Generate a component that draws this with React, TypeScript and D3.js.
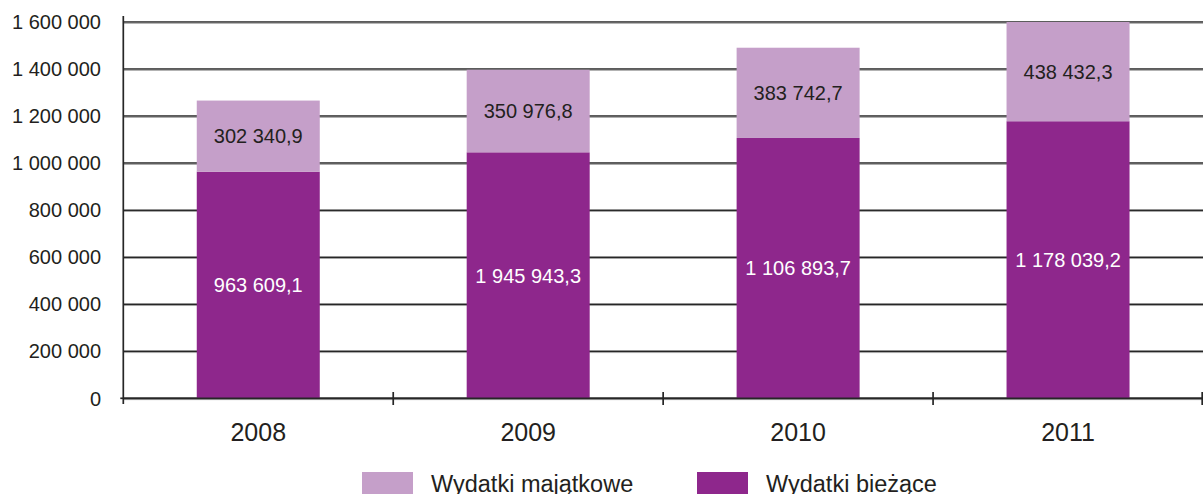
import React, { useEffect, useRef } from "react";
import * as d3 from "d3";

const years = ["2008", "2009", "2010", "2011"];
// Wydatki bieżące (current expenditure) – bar values
const currentValues = [963609.1, 1045943.3, 1106893.7, 1178039.2];
// Wydatki majątkowe (capital expenditure)
const capitalValues = [302340.9, 350976.8, 383742.7, 438432.3];
// Printed labels as shown in the source
const currentLabels = ["963 609,1", "1 945 943,3", "1 106 893,7", "1 178 039,2"];
const capitalLabels = ["302 340,9", "350 976,8", "383 742,7", "438 432,3"];
const yTicks = [0, 200000, 400000, 600000, 800000, 1000000, 1200000, 1400000, 1600000];
const seriesNames = ["Wydatki majątkowe", "Wydatki bieżące"];

const W = 1203;
const H = 494;
const FONT = "'Liberation Sans', Arial, Helvetica, sans-serif";
const LIGHT = "#c59fc9";
const DARK = "#8e278c";
const TEXT = "#231f20";

export default function App() {
  const ref = useRef<SVGSVGElement | null>(null);

  useEffect(() => {
    const svg = d3.select(ref.current);
    svg.selectAll("*").remove();

    const left = 123.3;
    const right = 1203;
    const y = d3.scaleLinear().domain([0, 1600000]).range([398.3, 22]).clamp(true);
    const x = d3.scaleBand<string>().domain(years).range([left, right]).padding(0);
    const barW = 123;

    const locale = d3.formatLocale({
      decimal: ",",
      thousands: " ",
      grouping: [3],
      currency: ["", ""],
    });
    const fmt = locale.format(",");

    // gridlines
    const grid = svg.append("g");
    grid
      .selectAll("line.g")
      .data(yTicks)
      .join("line")
      .attr("x1", left)
      .attr("x2", right)
      .attr("y1", (d) => y(d))
      .attr("y2", (d) => y(d))
      .attr("stroke", "#262626")
      .attr("stroke-width", 1.5);
    grid
      .selectAll("line.s")
      .data(yTicks)
      .join("line")
      .attr("x1", left)
      .attr("x2", right)
      .attr("y1", (d) => y(d) + 1.3)
      .attr("y2", (d) => y(d) + 1.3)
      .attr("stroke", "#9a9a9a")
      .attr("stroke-width", 0.9);

    // y tick labels
    svg
      .append("g")
      .selectAll("text")
      .data(yTicks)
      .join("text")
      .attr("x", 101)
      .attr("y", (d) => y(d))
      .attr("dy", "0.36em")
      .attr("text-anchor", "end")
      .attr("font-family", FONT)
      .attr("font-size", 20)
      .attr("fill", TEXT)
      .text((d) => fmt(d));

    // bars
    const bars = svg.append("g");
    years.forEach((yr, i) => {
      const cx = (x(yr) as number) + x.bandwidth() / 2;
      const c = currentValues[i];
      const t = c + capitalValues[i];
      bars
        .append("rect")
        .attr("x", cx - barW / 2)
        .attr("width", barW)
        .attr("y", y(c))
        .attr("height", y(0) - y(c))
        .attr("fill", DARK);
      bars
        .append("rect")
        .attr("x", cx - barW / 2)
        .attr("width", barW)
        .attr("y", y(t))
        .attr("height", y(c) - y(t))
        .attr("fill", LIGHT);
      bars
        .append("text")
        .attr("x", cx)
        .attr("y", (y(0) + y(c)) / 2)
        .attr("dy", "0.36em")
        .attr("text-anchor", "middle")
        .attr("font-family", FONT)
        .attr("font-size", 20)
        .attr("fill", "#ffffff")
        .text(currentLabels[i]);
      bars
        .append("text")
        .attr("x", cx)
        .attr("y", (y(c) + y(t)) / 2)
        .attr("dy", "0.36em")
        .attr("text-anchor", "middle")
        .attr("font-family", FONT)
        .attr("font-size", 20)
        .attr("fill", TEXT)
        .text(capitalLabels[i]);
      svg
        .append("text")
        .attr("x", cx)
        .attr("y", 441)
        .attr("text-anchor", "middle")
        .attr("font-family", FONT)
        .attr("font-size", 25)
        .attr("fill", TEXT)
        .text(yr);
    });

    // axes
    svg
      .append("line")
      .attr("x1", left)
      .attr("x2", left)
      .attr("y1", 16)
      .attr("y2", 404)
      .attr("stroke", "#262626")
      .attr("stroke-width", 1.7);
    svg
      .append("line")
      .attr("x1", left)
      .attr("x2", right)
      .attr("y1", y(0))
      .attr("y2", y(0))
      .attr("stroke", "#262626")
      .attr("stroke-width", 1.7);
    svg
      .append("line")
      .attr("x1", left - 3)
      .attr("x2", left)
      .attr("y1", y(0))
      .attr("y2", y(0))
      .attr("stroke", "#262626")
      .attr("stroke-width", 1.7);
    svg
      .append("g")
      .selectAll("line")
      .data(years.slice(1).concat(["end"]))
      .join("line")
      .attr("x1", (d, i) => left + x.bandwidth() * (i + 1) - (i === 3 ? 0.8 : 0))
      .attr("x2", (d, i) => left + x.bandwidth() * (i + 1) - (i === 3 ? 0.8 : 0))
      .attr("y1", 392)
      .attr("y2", 405)
      .attr("stroke", "#262626")
      .attr("stroke-width", 1.7);

    // legend
    const legend = svg.append("g");
    const legendItems = [
      { name: seriesNames[0], color: LIGHT, x: 362 },
      { name: seriesNames[1], color: DARK, x: 697 },
    ];
    legendItems.forEach((it) => {
      legend
        .append("rect")
        .attr("x", it.x)
        .attr("y", 472)
        .attr("width", 51)
        .attr("height", 25)
        .attr("fill", it.color);
      legend
        .append("text")
        .attr("x", it.x + 69)
        .attr("y", 492)
        .attr("font-family", FONT)
        .attr("font-size", 23.5)
        .attr("fill", TEXT)
        .text(it.name);
    });
  }, []);

  return (
    <svg
      ref={ref}
      width={W}
      height={H}
      style={{ position: "absolute", left: 0, top: 0, background: "#ffffff" }}
    />
  );
}
